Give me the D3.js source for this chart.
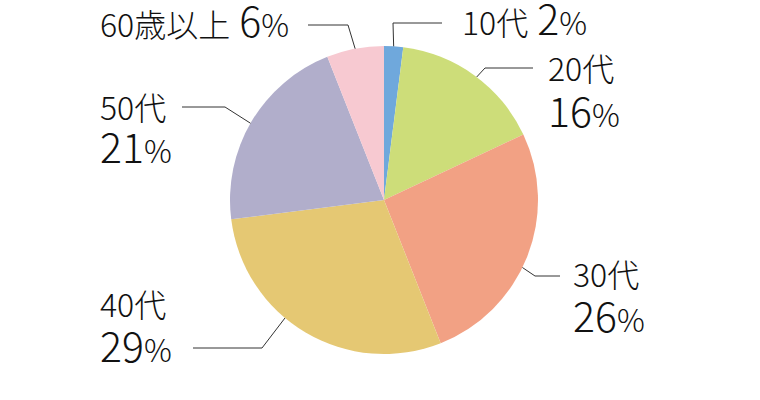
<!DOCTYPE html>
<html>
<head>
<meta charset="utf-8">
<script src="https://cdn.jsdelivr.net/npm/d3@7"></script>
<style>
  body { margin: 0; background: #fff; }
  text { font-family: "Noto Sans CJK JP", "Noto Sans", sans-serif; font-weight: 300; fill: #111; }
</style>
</head>
<body>
<div id="chart"></div>
<script>
// data
const categories = ["10代", "20代", "30代", "40代", "50代", "60歳以上"];
const values = [2, 16, 26, 29, 21, 6];
const colors = ["#6fa8dc", "#cddd79", "#f2a184", "#e5c873", "#b1aecb", "#f7c9d1"];

const width = 760, height = 400;
const cx = 384, cy = 200, radius = 154;

const svg = d3.select("#chart")
  .append("svg")
    .attr("width", width)
    .attr("height", height);

const g = svg.append("g")
    .attr("transform", `translate(${cx}, ${cy})`);

const pie = d3.pie().sort(null).value(d => d.value);
const arc = d3.arc().innerRadius(0).outerRadius(radius);

const data = categories.map((c, i) => ({ name: c, value: values[i], color: colors[i] }));
const arcs = pie(data);

g.selectAll("path.slice")
  .data(arcs)
  .enter()
  .append("path")
    .attr("class", "slice")
    .attr("d", arc)
    .attr("fill", d => d.data.color);

// label layout: angle nudge (deg), elbow, line end, text positions (relative to centre)
const layout = [
  { nudge: 0,   elbow: [9, -177],   end: [58, -177],   name: [78, -165], pct: null, inline: true },
  { nudge: 1,   elbow: [101, -132], end: [149, -132],  name: [164, -119], pct: [164, -73] },
  { nudge: 4.4, elbow: [151, 76],   end: [176, 76],    name: [189, 87],  pct: [189, 132] },
  { nudge: 9.4, elbow: [-122, 148], end: [-191, 148],  name: [-284, 117], pct: [-284, 162] },
  { nudge: -0.7,elbow: [-159, -93], end: [-202, -93],  name: [-284, -80], pct: [-284, -37] },
  { nudge: 0,   elbow: [-36, -175], end: [-76, -175],  name: [-284, -163], pct: null, inline: true }
];

const line = d3.line();

arcs.forEach((d, i) => {
  const L = layout[i];
  const a = (d.startAngle + d.endAngle) / 2 + L.nudge * Math.PI / 180;
  const p0 = [Math.sin(a) * radius, -Math.cos(a) * radius];
  g.append("path")
    .attr("d", line([p0, L.elbow, L.end]))
    .attr("fill", "none")
    .attr("stroke", "#333")
    .attr("stroke-width", 1);

  const t = g.append("text")
    .attr("x", L.name[0])
    .attr("y", L.name[1])
    .style("font-size", "32px");
  t.append("tspan").text(d.data.name);
  if (L.inline) {
    t.append("tspan").text(" " + d.data.value).style("font-size", "41px");
    t.append("tspan").text("%").style("font-size", "31px");
  } else {
    const p = g.append("text")
      .attr("x", L.pct[0])
      .attr("y", L.pct[1]);
    p.append("tspan").text(d.data.value).style("font-size", "41px");
    p.append("tspan").text("%").style("font-size", "31px");
  }
});
</script>
</body>
</html>
